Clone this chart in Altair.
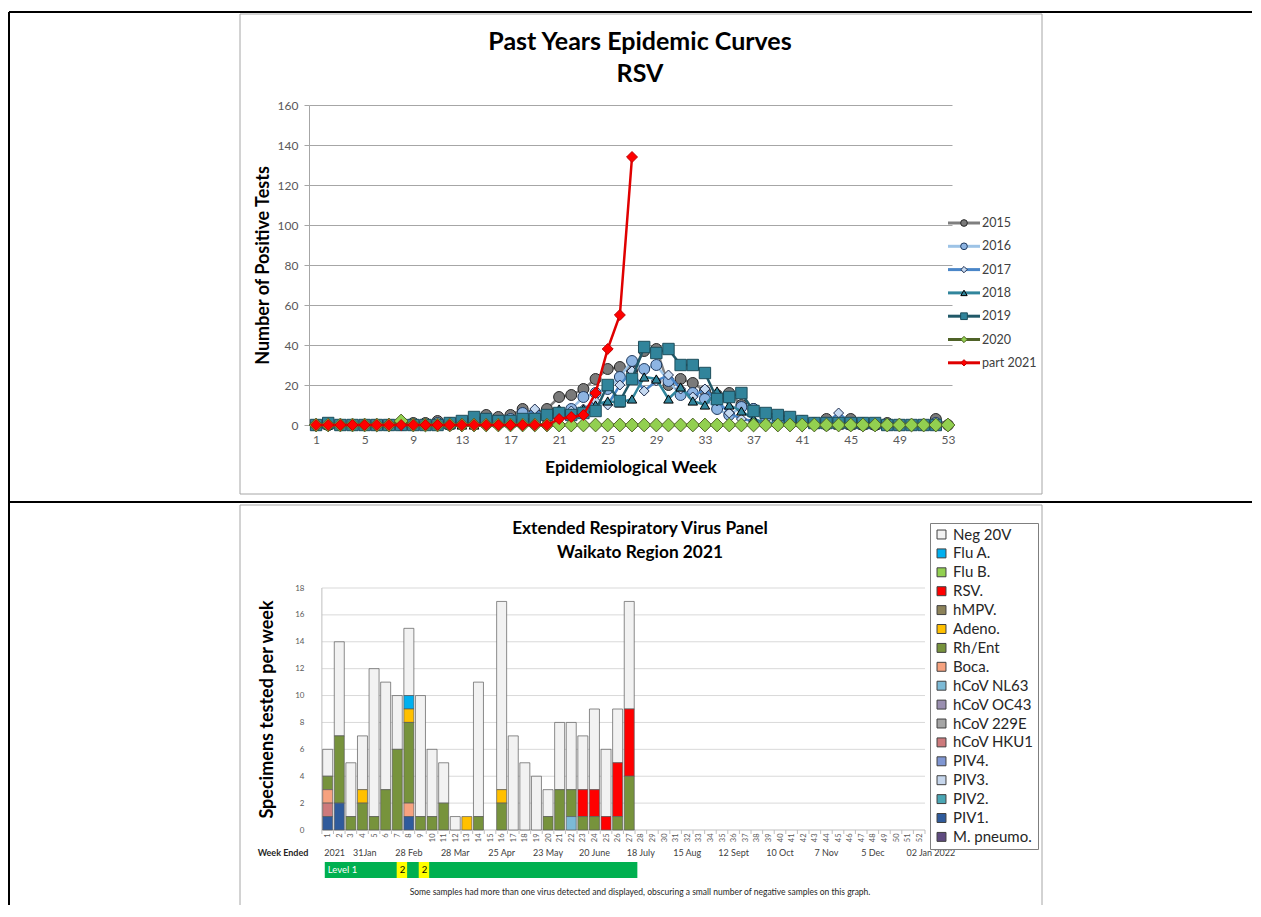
import altair as alt
import pandas as pd

FONT = "Lato"

# ---------------- Top chart: past years RSV epidemic curves ----------------
series_names = ["2015", "2016", "2017", "2018", "2019", "2020", "part 2021"]
y2015 = [0, 0, 0, 0, 0, 0, 0, 0, 1, 1, 2, 1, 1, 2, 5, 4, 5, 8, 6, 8,
         14, 15, 18, 23, 28, 29, 27, 37, 38, 20, 23, 21, 17, 15, 16, 10, 8, 5, 3, 2,
         2, 1, 3, 1, 3, 1, 0, 1, 0, 0, 0, 3, 0]
y2016 = [0, 0, 0, 0, 0, 0, 0, 0, 0, 0, 1, 0, 1, 1, 3, 2, 3, 6, 4, 5,
         6, 8, 14, 16, 18, 24, 32, 28, 30, 22, 15, 16, 13, 8, 5, 9, 8, 4, 2, 1,
         1, 1, 0, 1, 0, 0, 0, 0, 0, 0, 0, 1]
y2017 = [0, 0, 0, 0, 0, 0, 0, 0, 0, 0, 0, 0, 0, 1, 2, 2, 2, 3, 8, 3,
         4, 7, 8, 12, 10, 20, 27, 17, 22, 25, 18, 14, 18, 12, 6, 3, 2, 1, 1, 1,
         1, 1, 1, 6, 1, 0, 0, 0, 0, 0, 0, 0]
y2018 = [0, 0, 0, 0, 0, 0, 0, 0, 0, 0, 0, 0, 0, 0, 1, 1, 1, 2, 2, 4,
         8, 6, 8, 10, 12, 11, 13, 24, 23, 13, 19, 12, 10, 17, 10, 7, 3, 1, 1, 1,
         2, 1, 1, 0, 0, 0, 0, 0, 0, 0, 0, 0]
y2019 = [0, 1, 0, 0, 0, 0, 0, 0, 0, 0, 0, 1, 2, 4, 3, 2, 2, 3, 3, 5,
         6, 5, 6, 7, 20, 12, 23, 39, 36, 38, 30, 30, 26, 13, 14, 16, 7, 6, 5, 4,
         2, 1, 1, 1, 1, 1, 1, 0, 0, 0, 0, 0]
y2020 = [0, 0, 0, 0, 0, 0, 0, 2, 0, 0, 0, 0, 0, 0, 0, 0, 0, 0, 0, 0,
         0, 0, 0, 0, 0, 0, 0, 0, 0, 0, 0, 0, 0, 0, 0, 0, 0, 0, 0, 0,
         0, 0, 0, 0, 0, 0, 0, 0, 0, 0, 0, 0, 0]
y2021 = [0, 0, 0, 0, 0, 0, 0, 0, 0, 0, 0, 0, 0, 0, 0, 0, 0, 0, 0, 0,
         3, 4, 5, 16, 38, 55, 134]
top_week_ticks = [1, 5, 9, 13, 17, 21, 25, 29, 33, 37, 41, 45, 49, 53]

series_values = [y2015, y2016, y2017, y2018, y2019, y2020, y2021]
rows = []
for name, vals in zip(series_names, series_values):
    for i, v in enumerate(vals):
        rows.append({"series": name, "week": i + 1, "value": v})
top_df = pd.DataFrame(rows)

styles = {
    "2015": dict(line="#7f7f7f", fill="#7a7a7a", stroke="#262626", shape="circle", size=120, lsize=45),
    "2016": dict(line="#9dc3e6", fill="#8db4e2", stroke="#1f3a5f", shape="circle", size=120, lsize=45),
    "2017": dict(line="#4a86c8", fill="#c5d9f1", stroke="#1f2d4d", shape="diamond", size=100, lsize=40),
    "2018": dict(line="#31859c", fill="#31859c", stroke="#000000", shape="triangle-up", size=90, lsize=40),
    "2019": dict(line="#215968", fill="#31849b", stroke="#1d4e5c", shape="square", size=130, lsize=45),
    "2020": dict(line="#4f6228", fill="#92d050", stroke="#4f6228", shape="diamond", size=190, lsize=40),
    "part 2021": dict(line="#e00000", fill="#ff0000", stroke="#c00000", shape="diamond", size=120, lsize=40),
}

W1, H1 = 643, 320
xs_top = alt.Scale(domain=[0.42, 53.33], nice=False, zero=False)
ys_top = alt.Scale(domain=[0, 160], nice=False)
x_axis_top = alt.Axis(values=top_week_ticks, grid=False, ticks=False, domainColor="#a6a6a6",
                      labelFont=FONT, labelFontSize=12, labelColor="#595959", labelPadding=9,
                      title="Epidemiological Week", titleFont=FONT, titleFontSize=17.5,
                      titleFontWeight="bold", titleColor="#000000", titlePadding=13)
y_axis_top = alt.Axis(values=list(range(0, 161, 20)), grid=True, gridColor="#a6a6a6",
                      domainColor="#a6a6a6", tickColor="#a6a6a6", tickSize=5,
                      labelFont=FONT, labelFontSize=12, labelColor="#595959", labelPadding=6,
                      title="Number of Positive Tests", titleFont=FONT, titleFontSize=18,
                      titleFontWeight="bold", titleColor="#000000", titlePadding=5)

one = pd.DataFrame({"a": [0]})
top_layers = []
# panel box and table borders (decoration)
top_layers.append(alt.Chart(one).mark_rect(fillOpacity=0, stroke="#a6a6a6", strokeWidth=1).encode(
    x=alt.value(-69), x2=alt.value(733), y=alt.value(-91), y2=alt.value(389)))
top_layers.append(alt.Chart(one).mark_rule(color="#000000", strokeWidth=2).encode(
    x=alt.value(-300), x2=alt.value(943), y=alt.value(-93)))
top_layers.append(alt.Chart(one).mark_rule(color="#000000", strokeWidth=2).encode(
    x=alt.value(-300), y=alt.value(-93), y2=alt.value(800)))
top_layers.append(alt.Chart(one).mark_rule(color="#000000", strokeWidth=2).encode(
    x=alt.value(-300), x2=alt.value(943), y=alt.value(397)))

for name in series_names:
    st = styles[name]
    d = alt.Chart(top_df).transform_filter(alt.datum.series == name)
    top_layers.append(d.mark_line(color=st["line"], strokeWidth=2.5).encode(
        x=alt.X("week:Q", scale=xs_top, axis=x_axis_top),
        y=alt.Y("value:Q", scale=ys_top, axis=y_axis_top)))
    top_layers.append(d.mark_point(shape=st["shape"], fill=st["fill"], stroke=st["stroke"],
                                   strokeWidth=1, size=st["size"], opacity=1, fillOpacity=1).encode(
        x=alt.X("week:Q", scale=xs_top, axis=x_axis_top),
        y=alt.Y("value:Q", scale=ys_top, axis=y_axis_top)))

# legend (manual, Excel style line + marker)
for i, name in enumerate(series_names):
    st = styles[name]
    ly = 118 + i * 23.3
    lab = alt.Chart(pd.DataFrame({"s": [name]}))
    top_layers.append(lab.mark_rule(color=st["line"], strokeWidth=3).encode(
        x=alt.value(639), x2=alt.value(671), y=alt.value(ly)))
    top_layers.append(lab.mark_point(shape=st["shape"], fill=st["fill"], stroke=st["stroke"],
                                     strokeWidth=1, size=st["lsize"], opacity=1, fillOpacity=1).encode(
        x=alt.value(655), y=alt.value(ly)))
    top_layers.append(lab.mark_text(align="left", baseline="middle", font=FONT, fontSize=12.5,
                                    color="#404040").encode(
        x=alt.value(673), y=alt.value(ly), text="s:N"))

top_titles = ["Past Years Epidemic Curves", "RSV"]
for i, t in enumerate(top_titles):
    top_layers.append(alt.Chart(pd.DataFrame({"t": [t]})).mark_text(
        font=FONT, fontSize=25, fontWeight="bold", color="#000000", baseline="middle").encode(
        x=alt.value(331), y=alt.value(-63 + i * 32), text="t:N"))

top = alt.layer(*top_layers).properties(width=W1, height=H1)

# ---------------- Bottom chart: Extended Respiratory Virus Panel ----------------
categories = ["Neg 20V", "Flu A.", "Flu B.", "RSV.", "hMPV.", "Adeno.", "Rh/Ent", "Boca.",
              "hCoV NL63", "hCoV OC43", "hCoV 229E", "hCoV HKU1", "PIV4.", "PIV3.", "PIV2.",
              "PIV1.", "M. pneumo."]
cat_colors = ["#f2f2f2", "#00b0f0", "#92d050", "#ff0000", "#8c8259", "#ffc000", "#77933c", "#f6a27f",
              "#7cbad6", "#9a8fb0", "#a5a5a5", "#cd7a7c", "#7f96d2", "#c6d6ec", "#4aa6b4",
              "#2f5b9c", "#5f4b80"]
weeks_2021 = list(range(1, 28))
neg_20v = [2, 7, 4, 4, 11, 8, 4, 5, 9, 5, 3, 1, 0, 10, 0, 14, 7, 5, 4, 2, 5, 5, 4, 6, 5, 4, 8]
flu_a = [0, 0, 0, 0, 0, 0, 0, 1, 0, 0, 0, 0, 0, 0, 0, 0, 0, 0, 0, 0, 0, 0, 0, 0, 0, 0, 0]
rsv = [0, 0, 0, 0, 0, 0, 0, 0, 0, 0, 0, 0, 0, 0, 0, 0, 0, 0, 0, 0, 0, 0, 2, 2, 1, 4, 5]
adeno = [0, 0, 0, 1, 0, 0, 0, 1, 0, 0, 0, 0, 1, 0, 0, 1, 0, 0, 0, 0, 0, 0, 0, 0, 0, 0, 0]
rh_ent = [1, 5, 1, 2, 1, 3, 6, 6, 1, 1, 2, 0, 0, 1, 0, 2, 0, 0, 0, 1, 3, 2, 1, 1, 0, 1, 4]
boca = [1, 0, 0, 0, 0, 0, 0, 1, 0, 0, 0, 0, 0, 0, 0, 0, 0, 0, 0, 0, 0, 0, 0, 0, 0, 0, 0]
hcov_nl63 = [0, 0, 0, 0, 0, 0, 0, 0, 0, 0, 0, 0, 0, 0, 0, 0, 0, 0, 0, 0, 0, 1, 0, 0, 0, 0, 0]
hcov_hku1 = [1, 0, 0, 0, 0, 0, 0, 0, 0, 0, 0, 0, 0, 0, 0, 0, 0, 0, 0, 0, 0, 0, 0, 0, 0, 0, 0]
piv1 = [1, 2, 0, 0, 0, 0, 0, 1, 0, 0, 0, 0, 0, 0, 0, 0, 0, 0, 0, 0, 0, 0, 0, 0, 0, 0, 0]
cat_values = {"Neg 20V": neg_20v, "Flu A.": flu_a, "RSV.": rsv, "Adeno.": adeno,
              "Rh/Ent": rh_ent, "Boca.": boca, "hCoV NL63": hcov_nl63,
              "hCoV HKU1": hcov_hku1, "PIV1.": piv1}
week_labels_x = list(range(1, 53))
date_labels = ["2021", "31Jan", "28 Feb", "28 Mar", "25 Apr", "23 May", "20 June", "18 July",
               "15 Aug", "12 Sept", "10 Oct", "7 Nov", "5 Dec", "02 Jan 2022"]
date_weeks = [1.6, 4.2, 8, 12, 16, 20, 24, 28, 32, 36, 40, 44, 48, 53]
level_start = [0.75, 6.95, 8.85]
level_end = [27.7, 7.85, 9.75]
level_text = ["Level 1", "2", "2"]
level_fill = ["#00b050", "#ffff00", "#ffff00"]
level_text_color = ["#ffffff", "#000000", "#000000"]
grid_vals = list(range(2, 19, 2))

rows = []
for c in categories:
    if c in cat_values:
        for w, v in zip(weeks_2021, cat_values[c]):
            if v > 0:
                rows.append({"week": w, "category": c, "value": v,
                             "stack": len(categories) - categories.index(c)})
bar_df = pd.DataFrame(rows)

W2, H2 = 621, 242
xs_bot = alt.Scale(domain=[-0.179, 52.5], nice=False, zero=False)
ys_bot = alt.Scale(domain=[0, 18], nice=False)
x_axis_bot = alt.Axis(values=week_labels_x, labelAngle=270, grid=False, ticks=False, domain=False,
                      labelFont=FONT, labelFontSize=7.5, labelColor="#595959", labelPadding=3,
                      labelOverlap=False, title=None)
y_axis_bot = alt.Axis(values=list(range(0, 19, 2)), grid=False, ticks=False, domain=False,
                      labelFont=FONT, labelFontSize=8, labelColor="#595959", labelPadding=5,
                      labelOverlap=False,
                      title="Specimens tested per week", titleFont=FONT, titleFontSize=18,
                      titleFontWeight="bold", titleColor="#000000", titlePadding=18)

XB = lambda f: alt.X(f, scale=xs_bot, axis=x_axis_bot)
YB = lambda f: alt.Y(f, scale=ys_bot, axis=y_axis_bot)

bl = []
bl.append(alt.Chart(one).mark_rule(color="#a6a6a6", strokeWidth=1).encode(
    x=alt.value(-69), x2=alt.value(733), y=alt.value(-83)))
bl.append(alt.Chart(one).mark_rule(color="#a6a6a6", strokeWidth=1).encode(
    x=alt.value(-69), y=alt.value(-83), y2=alt.value(317)))
bl.append(alt.Chart(one).mark_rule(color="#a6a6a6", strokeWidth=1).encode(
    x=alt.value(733), y=alt.value(-83), y2=alt.value(317)))

# gridlines, axis lines and category boundary ticks
ax_df = pd.DataFrame({"x0": [0.5], "x1": [52.5], "y0": [0], "y1": [18]})
bl.append(alt.Chart(pd.DataFrame({"g": grid_vals, "x0": 0.5, "x1": 52.5})).mark_rule(
    color="#d9d9d9", strokeWidth=1).encode(x=XB("x0:Q"), x2="x1:Q", y=YB("g:Q")))
bl.append(alt.Chart(ax_df).mark_rule(color="#bfbfbf", strokeWidth=1).encode(
    x=XB("x0:Q"), y=YB("y0:Q"), y2="y1:Q"))
bl.append(alt.Chart(ax_df).mark_rule(color="#bfbfbf", strokeWidth=1).encode(
    x=XB("x0:Q"), x2="x1:Q", y=YB("y0:Q")))
bl.append(alt.Chart(pd.DataFrame({"b": [w + 0.5 for w in range(0, 53)]})).mark_rule(
    color="#bfbfbf", strokeWidth=1).encode(
    x=XB("b:Q"), y=alt.value(H2), y2=alt.value(H2 + 4)))

bl.append(alt.Chart(bar_df).mark_bar(size=10, stroke="#5a5a5a", strokeWidth=0.7).encode(
    x=XB("week:Q"),
    y=alt.Y("value:Q", stack="zero", scale=ys_bot, axis=y_axis_bot),
    color=alt.Color("category:N", scale=alt.Scale(domain=categories, range=cat_colors),
                    legend=alt.Legend(title=None, orient="none", legendX=621, legendY=418,
                                      symbolType="square", symbolSize=80,
                                      symbolStrokeColor="#404040", symbolStrokeWidth=1,
                                      labelFont=FONT, labelFontSize=15, labelColor="#262626",
                                      strokeColor="#7f7f7f", fillColor="#ffffff",
                                      padding=4, rowPadding=2.9, labelOffset=4, labelLimit=300)),
    order=alt.Order("stack:Q", sort="ascending")))

bl.append(alt.Chart(pd.DataFrame({"t": ["Week Ended"]})).mark_text(
    font=FONT, fontSize=9, fontWeight="bold", color="#262626", baseline="middle").encode(
    x=alt.value(-26), y=alt.value(265), text="t:N"))
bl.append(alt.Chart(pd.DataFrame({"t": date_labels, "w": date_weeks})).mark_text(
    font=FONT, fontSize=9, color="#404040", baseline="middle").encode(
    x=XB("w:Q"), y=alt.value(265), text="t:N"))

lev_df = pd.DataFrame({"s": level_start, "e": level_end, "t": level_text,
                       "f": level_fill, "tc": level_text_color})
bl.append(alt.Chart(lev_df).mark_rect().encode(
    x=XB("s:Q"), x2="e:Q",
    y=alt.value(274), y2=alt.value(290),
    fill=alt.Fill("f:N", scale=None)))
bl.append(alt.Chart(lev_df).mark_text(font=FONT, fontSize=9.5, align="left", baseline="middle", dx=3).encode(
    x=XB("s:Q"), y=alt.value(282), text="t:N",
    color=alt.Color("tc:N", scale=None)))

bl.append(alt.Chart(pd.DataFrame({"t": ["Some samples had more than one virus detected and displayed, "
                                        "obscuring a small number of negative samples on this graph."]})).mark_text(
    font=FONT, fontSize=8.5, color="#262626", baseline="middle").encode(
    x=alt.value(331), y=alt.value(304), text="t:N"))

bot_titles = ["Extended Respiratory Virus Panel", "Waikato Region 2021"]
for i, t in enumerate(bot_titles):
    bl.append(alt.Chart(pd.DataFrame({"t": [t]})).mark_text(
        font=FONT, fontSize=17.3, fontWeight="bold", color="#000000", baseline="middle").encode(
        x=alt.value(331), y=alt.value(-59 + i * 24), text="t:N"))

bottom = alt.layer(*bl).properties(width=W2, height=H2)

chart = alt.vconcat(top, bottom, spacing=163, bounds="flush").properties(
    padding={"left": 0, "top": 3, "right": 0, "bottom": 0}
).configure_view(stroke=None).configure_axis(labelOverlap=False)

chart.save("out.html", embed_options={"renderer": "svg", "actions": False})
